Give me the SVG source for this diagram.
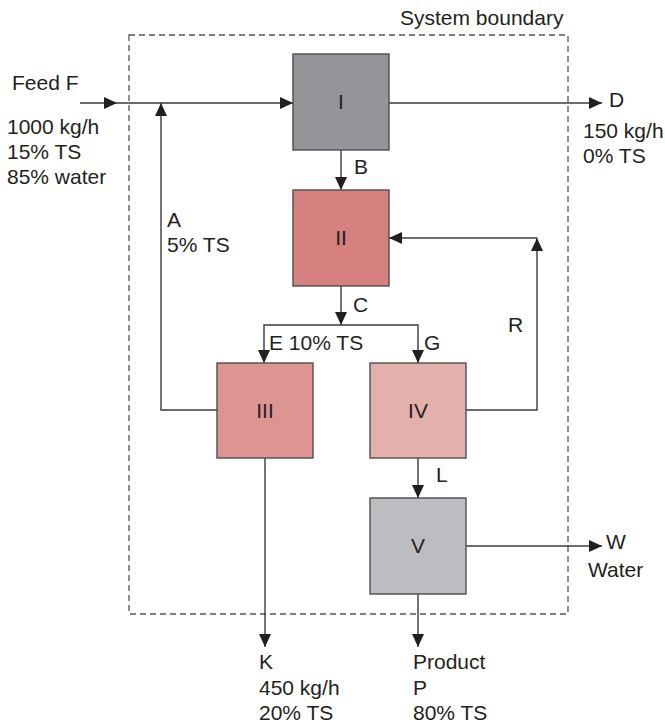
<svg xmlns="http://www.w3.org/2000/svg" width="665" height="723" viewBox="0 0 665 723">
<defs>
<marker id="ah" markerUnits="userSpaceOnUse" markerWidth="13" markerHeight="12" refX="13" refY="6" orient="auto">
<path d="M0,0 L13,6 L0,12 z" fill="#231f20"/>
</marker>
<style>
text{font-family:"Liberation Sans",Arial,Helvetica,sans-serif;font-size:21px;fill:#231f20}
.box{stroke:#4d4d4f;stroke-width:1.4}
.c{fill:none;stroke:#3a3a3a;stroke-width:1.4}
.m{text-anchor:middle}
</style>
</defs>
<rect width="665" height="723" fill="#fff"/>
<g id="boundary">
<rect x="129" y="35" width="439" height="579" fill="none" stroke="#555" stroke-width="1.3" stroke-dasharray="6,4"/>
<text x="400" y="25">System boundary</text>
</g>
<g id="connectors">
<path class="c" d="M80,103 H117" marker-end="url(#ah)"/>
<path class="c" d="M117,103 H293" marker-end="url(#ah)"/>
<path class="c" d="M217,410 H161 V103" marker-end="url(#ah)"/>
<path class="c" d="M389,103 H602" marker-end="url(#ah)"/>
<path class="c" d="M341,150 V190" marker-end="url(#ah)"/>
<path class="c" d="M341,286 V325" marker-end="url(#ah)"/>
<path class="c" d="M341,325 H264 V363" marker-end="url(#ah)"/>
<path class="c" d="M341,325 H418 V363" marker-end="url(#ah)"/>
<path class="c" d="M466,410 H537 V238" marker-end="url(#ah)"/>
<path class="c" d="M537,238 H389" marker-end="url(#ah)"/>
<path class="c" d="M418,458 V498" marker-end="url(#ah)"/>
<path class="c" d="M265,458 V647" marker-end="url(#ah)"/>
<path class="c" d="M418,594 V647" marker-end="url(#ah)"/>
<path class="c" d="M466,546 H602" marker-end="url(#ah)"/>
</g>
<g id="labels">
<text x="12" y="90">Feed F</text>
<text x="7" y="134">1000 kg/h</text>
<text x="7" y="159">15% TS</text>
<text x="7" y="184">85% water</text>
<text x="609" y="107">D</text>
<text x="583" y="138">150 kg/h</text>
<text x="583" y="163">0% TS</text>
<text x="354" y="174">B</text>
<text x="167" y="227">A</text>
<text x="167" y="252">5% TS</text>
<text x="353" y="312">C</text>
<text x="269" y="350">E 10% TS</text>
<text x="424" y="350">G</text>
<text x="508" y="332">R</text>
<text x="436" y="482">L</text>
<text x="606" y="549">W</text>
<text x="588" y="577">Water</text>
<text x="259" y="669">K</text>
<text x="259" y="695">450 kg/h</text>
<text x="259" y="720">20% TS</text>
<text x="413" y="669">Product</text>
<text x="413" y="695">P</text>
<text x="413" y="720">80% TS</text>
</g>
<g id="node-I">
<rect class="box" x="293" y="54" width="96" height="96" fill="#939598"/>
<text class="m" x="341" y="109">I</text>
</g>
<g id="node-II">
<rect class="box" x="293" y="190" width="96" height="96" fill="#d6817f"/>
<text class="m" x="341" y="245">II</text>
</g>
<g id="node-III">
<rect class="box" x="217" y="363" width="96" height="95" fill="#dd9592"/>
<text class="m" x="265" y="418">III</text>
</g>
<g id="node-IV">
<rect class="box" x="370" y="363" width="96" height="95" fill="#e4b0ac"/>
<text class="m" x="418" y="418">IV</text>
</g>
<g id="node-V">
<rect class="box" x="370" y="498" width="96" height="96" fill="#bcbdc0"/>
<text class="m" x="418" y="553">V</text>
</g>
</svg>
